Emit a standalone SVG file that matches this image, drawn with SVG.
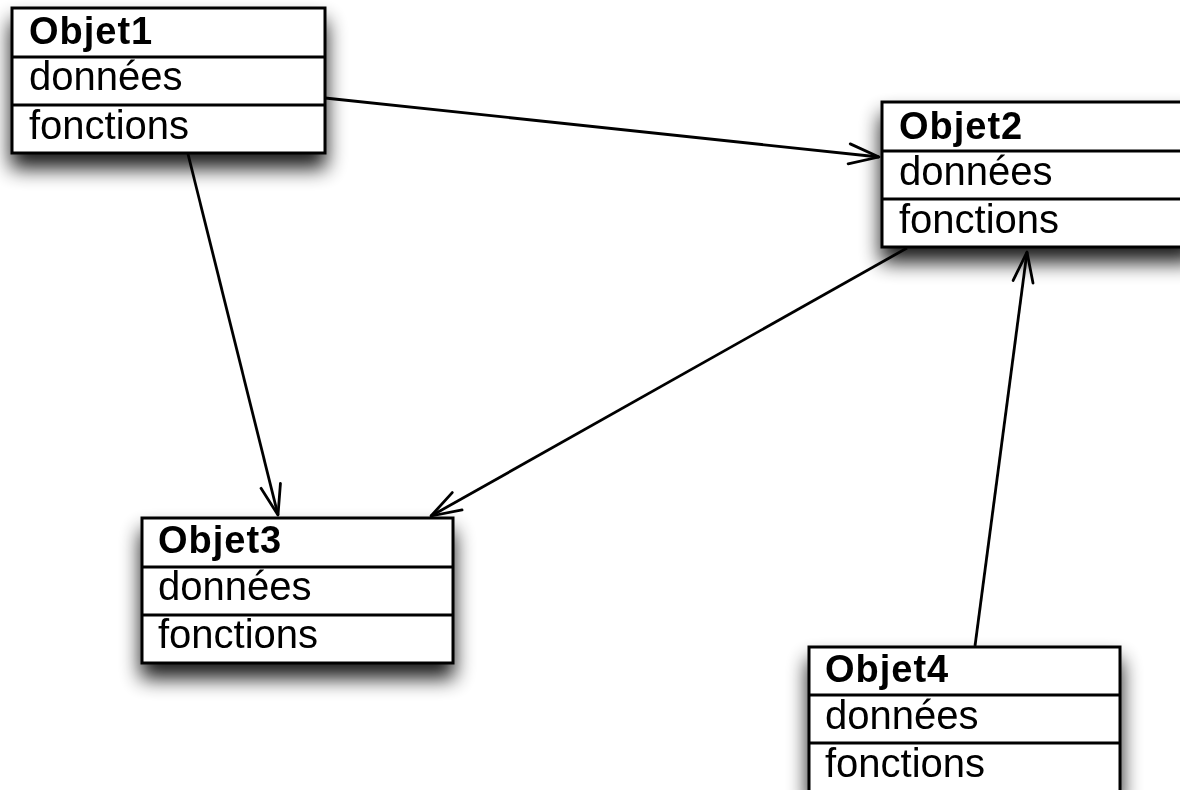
<svg xmlns="http://www.w3.org/2000/svg" width="1180" height="790" viewBox="0 0 1180 790">
  <defs>
    <style>
      .box { fill: #ffffff; stroke: #000000; stroke-width: 3; }
      .sep { stroke: #000000; stroke-width: 3; }
      .title { font-family: "Liberation Sans", Arial, sans-serif; font-weight: bold; font-size: 38px; letter-spacing: 1px; fill: #000000; }
      .attr { font-family: "Liberation Sans", Arial, sans-serif; font-size: 40px; fill: #000000; }
      .link { fill: none; stroke: #000000; stroke-width: 2.8; marker-end: url(#open); }
    </style>
    <!-- soft drop shadow under each class box -->
    <filter id="shadow" x="-20%" y="-25%" width="140%" height="190%">
      <feGaussianBlur in="SourceAlpha" stdDeviation="10"/>
      <feOffset dy="14"/>
      <feComponentTransfer>
        <feFuncA type="linear" slope="0.9"/>
      </feComponentTransfer>
      <feMerge>
        <feMergeNode/>
        <feMergeNode in="SourceGraphic"/>
      </feMerge>
    </filter>
    <!-- open V arrowhead -->
    <marker id="open" markerUnits="userSpaceOnUse" markerWidth="40" markerHeight="30" viewBox="-34 -15 40 30" refX="0" refY="0" orient="auto" overflow="visible">
      <path d="M-30,-10 L0,0 L-30,10" fill="none" stroke="#000000" stroke-width="2.8" stroke-linejoin="round" stroke-linecap="round"/>
    </marker>
  </defs>

  <rect width="1180" height="790" fill="#ffffff"/>

  <g id="objet1" filter="url(#shadow)">
    <rect class="box" x="12" y="8" width="313" height="145"/>
    <line class="sep" x1="12" y1="57" x2="325" y2="57"/>
    <line class="sep" x1="12" y1="105" x2="325" y2="105"/>
    <text class="title" x="29" y="44">Objet1</text>
    <text class="attr" x="29" y="90">données</text>
    <text class="attr" x="29" y="139">fonctions</text>
  </g>

  <g id="objet2" filter="url(#shadow)">
    <rect class="box" x="882" y="102" width="312" height="145"/>
    <line class="sep" x1="882" y1="151" x2="1194" y2="151"/>
    <line class="sep" x1="882" y1="199" x2="1194" y2="199"/>
    <text class="title" x="899" y="139">Objet2</text>
    <text class="attr" x="899" y="185">données</text>
    <text class="attr" x="899" y="233">fonctions</text>
  </g>

  <g id="objet3" filter="url(#shadow)">
    <rect class="box" x="142" y="518" width="311" height="145"/>
    <line class="sep" x1="142" y1="567" x2="453" y2="567"/>
    <line class="sep" x1="142" y1="615" x2="453" y2="615"/>
    <text class="title" x="158" y="553">Objet3</text>
    <text class="attr" x="158" y="600">données</text>
    <text class="attr" x="158" y="648">fonctions</text>
  </g>

  <g id="objet4" filter="url(#shadow)">
    <rect class="box" x="809" y="647" width="311" height="145"/>
    <line class="sep" x1="809" y1="695" x2="1120" y2="695"/>
    <line class="sep" x1="809" y1="743" x2="1120" y2="743"/>
    <text class="title" x="825" y="682">Objet4</text>
    <text class="attr" x="825" y="729">données</text>
    <text class="attr" x="825" y="777">fonctions</text>
  </g>

  <g id="connectors">
    <line class="link" x1="325" y1="98" x2="879" y2="157"/>
    <line class="link" x1="188" y1="154" x2="278" y2="515"/>
    <line class="link" x1="907" y1="248" x2="431" y2="516"/>
    <line class="link" x1="975" y1="646" x2="1027" y2="252"/>
  </g>
</svg>
